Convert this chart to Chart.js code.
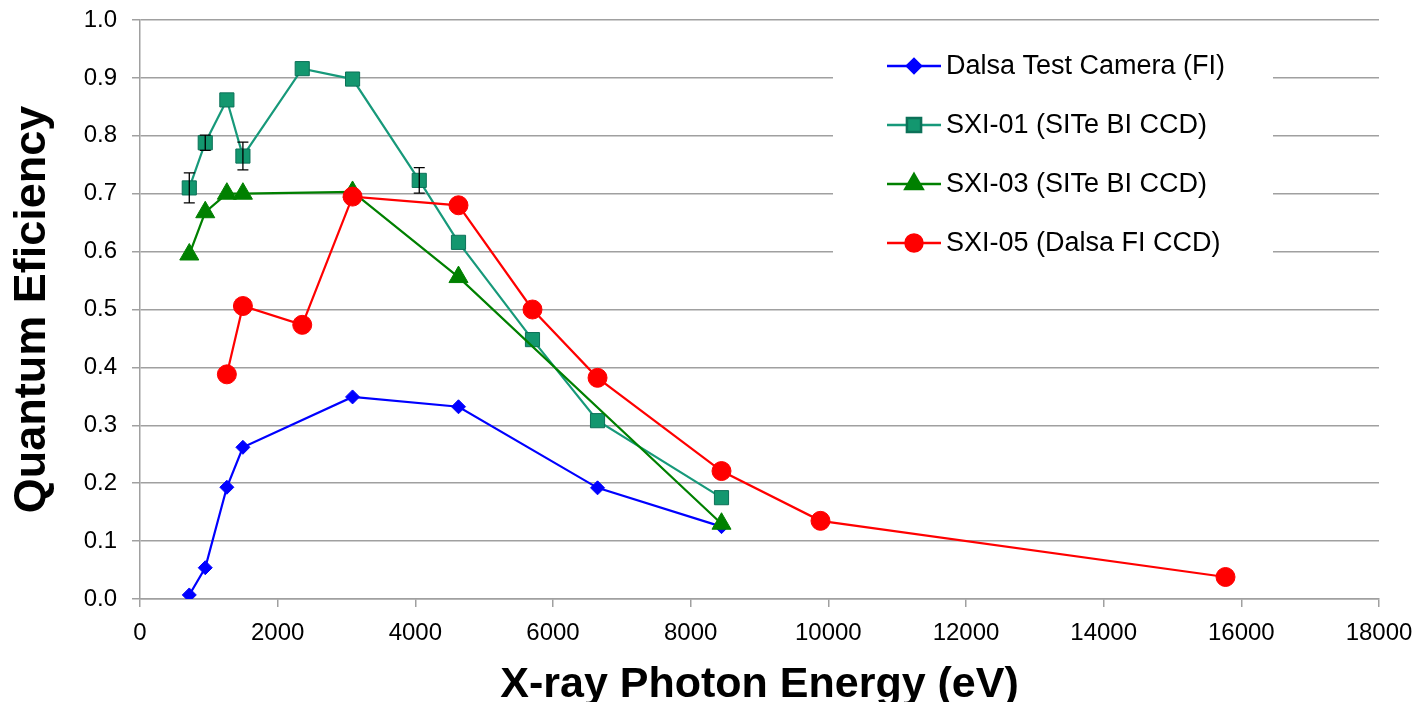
<!DOCTYPE html>
<html>
<head>
<meta charset="utf-8">
<title>Quantum Efficiency</title>
<script src="https://cdn.jsdelivr.net/npm/chart.js@4/dist/chart.umd.min.js"></script>
<style>
  html, body { margin: 0; padding: 0; background: #fff; overflow: hidden; }
  #wrap { width: 1421px; height: 702px; }
</style>
</head>
<body>
<div id="wrap"><canvas id="qeChart" width="1421" height="702"></canvas></div>
<script>
// photon energies (eV)
const energyDalsa = [716, 948, 1262, 1495, 3088, 4627, 6647, 8448];
const qeDalsa     = [0.007, 0.054, 0.193, 0.262, 0.349, 0.332, 0.192, 0.125];

const energySxi01 = [716, 948, 1262, 1495, 2357, 3088, 4057, 4627, 5702, 6647, 8448];
const qeSxi01     = [0.710, 0.788, 0.862, 0.765, 0.916, 0.898, 0.723, 0.616, 0.448, 0.308, 0.175];
const errSxi01    = [0.026, 0.013, null, 0.024, null, null, 0.022, null, null, null, null];

const energySxi03 = [716, 948, 1262, 1495, 3088, 4627, 8448];
const qeSxi03     = [0.595, 0.668, 0.700, 0.700, 0.703, 0.556, 0.130];

const energySxi05 = [1262, 1495, 2357, 3088, 4627, 5702, 6647, 8448, 9886, 15770];
const qeSxi05     = [0.388, 0.506, 0.4735, 0.695, 0.680, 0.500, 0.382, 0.221, 0.135, 0.038];

const seriesNames = ['Dalsa Test Camera (FI)', 'SXI-01 (SITe BI CCD)', 'SXI-03 (SITe BI CCD)', 'SXI-05 (Dalsa FI CCD)'];

const xMax = 18000, xStep = 2000;
const yMax = 1.0, yStep = 0.1;

const FONT = "'Liberation Sans', Arial, sans-serif";
const gridGrey = '#a0a0a0';

function toPoints(xs, ys) {
  return xs.map(function(x, i) { return {x: x, y: ys[i]}; });
}

// error bars on the SXI-01 points
const errorBars = {
  id: 'errorBars',
  afterDatasetsDraw(chart) {
    const ctx = chart.ctx;
    const xs = chart.scales.x, ys = chart.scales.y;
    ctx.save();
    ctx.strokeStyle = '#000';
    ctx.lineWidth = 1.3;
    errSxi01.forEach(function(e, i) {
      if (e == null) return;
      const px = xs.getPixelForValue(energySxi01[i]);
      const top = ys.getPixelForValue(qeSxi01[i] + e);
      const bot = ys.getPixelForValue(qeSxi01[i] - e);
      ctx.beginPath();
      ctx.moveTo(px, top); ctx.lineTo(px, bot);
      ctx.moveTo(px - 5.5, top); ctx.lineTo(px + 5.5, top);
      ctx.moveTo(px - 5.5, bot); ctx.lineTo(px + 5.5, bot);
      ctx.stroke();
    });
    ctx.restore();
  }
};

// legend box inside the plot, like the original
const boxLegend = {
  id: 'boxLegend',
  afterDraw(chart) {
    const ctx = chart.ctx;
    ctx.save();
    ctx.fillStyle = '#fff';
    ctx.fillRect(833, 30, 440, 262);
    const rows = [66, 125, 184, 243];
    const legendSizes = [7, 10, 10, 8.5];
    chart.data.datasets.forEach(function(ds, i) {
      const y = rows[i];
      ctx.strokeStyle = ds.borderColor;
      ctx.lineWidth = 2.5;
      ctx.beginPath();
      ctx.moveTo(887, y); ctx.lineTo(941, y);
      ctx.stroke();
      ctx.fillStyle = ds.pointBackgroundColor;
      ctx.strokeStyle = ds.pointBorderColor;
      Chart.helpers.drawPoint(ctx, {pointStyle: ds.pointStyle, radius: legendSizes[i], rotation: 0, borderWidth: ds.pointBorderWidth}, 914, y);
      ctx.fillStyle = '#000';
      ctx.font = '27px ' + FONT;
      ctx.textAlign = 'left';
      ctx.textBaseline = 'middle';
      ctx.fillText(ds.label, 946, y + 1);
    });
    ctx.restore();
  }
};

const qeCanvas = document.getElementById('qeChart');

const qeChart = new Chart(qeCanvas, {
  type: 'line',
  data: {
    datasets: [
      {
        label: seriesNames[0],
        data: toPoints(energyDalsa, qeDalsa),
        borderColor: '#0000ff',
        backgroundColor: '#0000ff',
        pointBackgroundColor: '#0000ff',
        pointBorderColor: '#0000ff',
        pointBorderWidth: 1,
        pointStyle: 'rectRot',
        pointRadius: 7,
        borderWidth: 2.2,
        order: 4
      },
      {
        label: seriesNames[1],
        data: toPoints(energySxi01, qeSxi01),
        borderColor: '#17997a',
        backgroundColor: '#13976f',
        pointBackgroundColor: '#13976f',
        pointBorderColor: '#0c7158',
        pointBorderWidth: 1,
        pointStyle: 'rect',
        pointRadius: 10,
        borderWidth: 2.2,
        order: 3
      },
      {
        label: seriesNames[2],
        data: toPoints(energySxi03, qeSxi03),
        borderColor: '#008000',
        backgroundColor: '#008000',
        pointBackgroundColor: '#008000',
        pointBorderColor: '#008000',
        pointBorderWidth: 1,
        pointStyle: 'triangle',
        pointRadius: 11,
        borderWidth: 2.2,
        order: 2
      },
      {
        label: seriesNames[3],
        data: toPoints(energySxi05, qeSxi05),
        borderColor: '#ff0000',
        backgroundColor: '#ff0000',
        pointBackgroundColor: '#ff0000',
        pointBorderColor: '#ff0000',
        pointBorderWidth: 1,
        pointStyle: 'circle',
        pointRadius: 9.5,
        borderWidth: 2.2,
        order: 1
      }
    ]
  },
  options: {
    responsive: false,
    animation: false,
    devicePixelRatio: 1,
    layout: { padding: { top: 20, right: 42, bottom: 0, left: 0 } },
    elements: { line: { tension: 0, fill: false } },
    plugins: {
      legend: { display: false },
      tooltip: { enabled: false }
    },
    scales: {
      x: {
        type: 'linear',
        min: 0,
        max: xMax,
        afterFit: function(scale) {
          scale.height = 103;
          scale.paddingLeft = 0;
          scale.paddingRight = 0;
        },
        ticks: {
          stepSize: xStep,
          color: '#000',
          padding: 12,
          maxRotation: 0,
          font: { family: FONT, size: 24 },
          callback: function(v) { return String(v); }
        },
        grid: { drawOnChartArea: false, drawTicks: true, tickLength: 8, color: gridGrey, lineWidth: 1.5 },
        border: { display: true, color: gridGrey, width: 1.5 },
        title: {
          display: true,
          text: 'X-ray Photon Energy (eV)',
          color: '#000',
          font: { family: FONT, size: 43, weight: 'bold' },
          padding: { top: 0, bottom: -9 }
        }
      },
      y: {
        type: 'linear',
        min: 0,
        max: yMax,
        afterFit: function(scale) {
          scale.width = 140;
          // the tick padding would otherwise push the plot top down
          scale.paddingTop = 0;
          scale.paddingBottom = 0;
        },
        ticks: {
          stepSize: yStep,
          color: '#000',
          padding: 15,
          font: { family: FONT, size: 24 },
          callback: function(v) { return v.toFixed(1); }
        },
        grid: { drawTicks: true, tickLength: 8, color: gridGrey, lineWidth: 1.5 },
        border: { display: true, color: gridGrey, width: 1.5 },
        title: {
          display: true,
          text: 'Quantum Eficiency',
          color: '#000',
          font: { family: FONT, size: 45, weight: 'bold' },
          padding: { top: 6, bottom: 0 }
        }
      }
    }
  },
  plugins: [errorBars, boxLegend]
});
</script>
</body>
</html>
